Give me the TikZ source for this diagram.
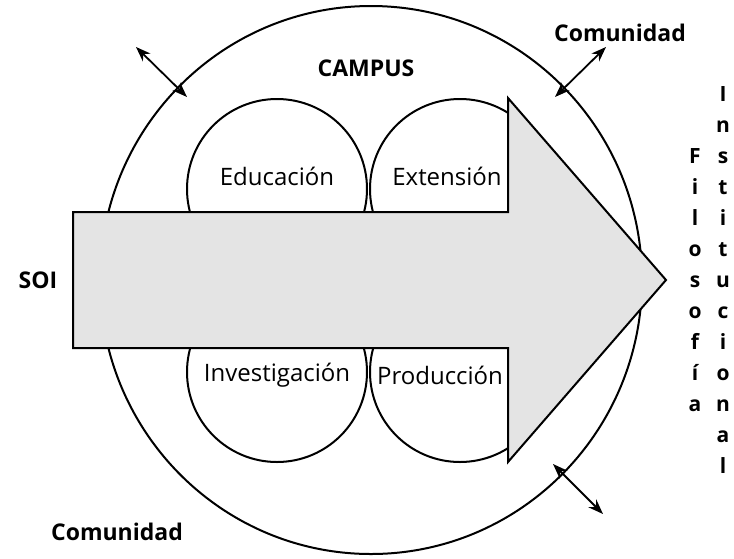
\documentclass[tikz,border=0pt]{standalone}
\usepackage{fontspec}
\setmainfont{Open Sans}
\usetikzlibrary{arrows.meta}
\definecolor{arrowgray}{RGB}{228,228,228}
\tikzset{
  outline/.style={line width=2pt, draw=black},
  lobe/.style={outline, fill=white},
  lbl/.style={font=\fontsize{24}{28}\selectfont, inner sep=0pt},
  blbl/.style={font=\bfseries\fontsize{23}{27}\selectfont, inner sep=0pt},
  vlbl/.style={font=\bfseries\fontsize{21}{31}\selectfont, align=center, inner sep=0pt},
  dbl/.style={line width=1.8pt, {Stealth[length=15pt,width=11pt]}-{Stealth[length=15pt,width=11pt]}}
}
\begin{document}
\begin{tikzpicture}[x=1pt, y=-1pt]
\useasboundingbox (0,0) rectangle (734,558);
% campus ellipse
\draw[outline] (371,280) ellipse [x radius=271, y radius=274];
% lobes
\draw[lobe] (277,189) circle [radius=90];
\draw[lobe] (460,189) circle [radius=90];
\draw[lobe] (277,372) circle [radius=90];
\draw[lobe] (460,372) circle [radius=90];
% big arrow
\draw[outline, fill=arrowgray, line join=miter]
  (73,212) -- (508,212) -- (508,98) -- (666,280) -- (508,462) -- (508,348) -- (73,348) -- cycle;
% labels
\node[lbl] (edu) at (277,176) {Educación};
\node[lbl] (ext) at (447,176) {Extensión};
\node[lbl] (inv) at (277,375) {Investigación};
\node[lbl] (prod) at (440,375) {Producción};
\node[blbl] (soi) at (38,280) {SOI};
\node[blbl] (campus) at (366,68) {CAMPUS};
\node[blbl] (com1) at (620,33) {Comunidad};
\node[blbl] (com2) at (117,532) {Comunidad};
\node[vlbl] (filo) at (695,280) {F\\i\\l\\o\\s\\o\\f\\í\\a};
\node[vlbl] (inst) at (723,280) {I\\n\\s\\t\\i\\t\\u\\c\\i\\o\\n\\a\\l};
% double arrows
\coordinate (tlo) at (136,47);
\coordinate (tli) at (187,97);
\coordinate (tro) at (606,47);
\coordinate (tri) at (555,97);
\coordinate (bri) at (553,464);
\coordinate (bro) at (603,514);
\draw[dbl] (tlo) -- (tli);
\draw[dbl] (tro) -- (tri);
\draw[dbl] (bri) -- (bro);
\end{tikzpicture}
\end{document}
